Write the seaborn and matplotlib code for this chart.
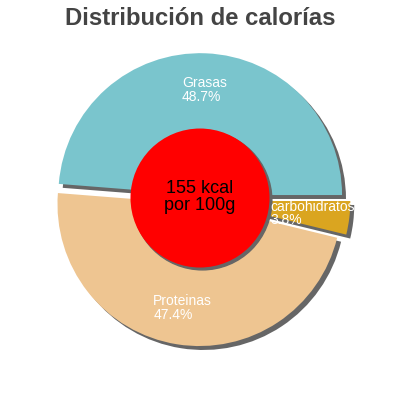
import numpy as np
import matplotlib
matplotlib.use("Agg")
import matplotlib.pyplot as plt
import matplotlib.patches as mpatches
import seaborn as sns

# datos
nutrientes = ["Grasas", "Proteinas", "carbohidratos"]
porcentajes = [48.7, 47.4, 3.8]
colores = ["#7AC5CD", "#EEC591", "#DAA520"]
separacion = [0.035, 0.03, 0.06]
kcal = 155
titulo = "Distribución de calorías"

sns.set_style("white")
plt.rcParams['font.family'] = ['Liberation Sans', 'DejaVu Sans']

fig = plt.figure(figsize=(4, 4), dpi=100)
ax = fig.add_axes([0, 0, 1, 1])

sombra = {'ox': 0.02, 'oy': -0.02, 'facecolor': '#666666', 'edgecolor': '#666666', 'alpha': 1}
wedges, _ = ax.pie(porcentajes, colors=colores, explode=separacion, startangle=0,
                   counterclock=True, shadow=sombra, radius=1,
                   wedgeprops={'linewidth': 0})

# etiquetas blancas dentro de cada porcion
for w, nombre, p in zip(wedges, nutrientes, porcentajes):
    ang = np.deg2rad((w.theta1 + w.theta2) / 2)
    cx, cy = w.center
    x = cx + 0.74 * np.cos(ang)
    y = cy + 0.74 * np.sin(ang)
    ax.text(x, y, f"{nombre}\n{p}%", color="white", fontsize=10,
            ha="center", va="center", multialignment="left", linespacing=0.95)

# circulo central
circulo = mpatches.Circle((0, 0.014), 0.49, facecolor="#FF0000", edgecolor="none", zorder=3)
ax.add_patch(mpatches.Shadow(circulo, 0.012, -0.012, facecolor='#666666', edgecolor='#666666', alpha=1))
ax.add_patch(circulo)
ax.text(0, 0.02, f"{kcal} kcal\npor 100g", color="black", fontsize=13,
        ha="center", va="center", linespacing=0.95, zorder=4)

ax.set_xlim(-1.41, 1.41)
ax.set_ylim(-1.41, 1.41)
ax.set_aspect("equal")
ax.axis("off")

fig.text(0.5, 0.953, titulo, ha="center", va="center", fontsize=17.2,
         fontweight="bold", color="#444444")

fig.savefig("out.png", dpi=100)
